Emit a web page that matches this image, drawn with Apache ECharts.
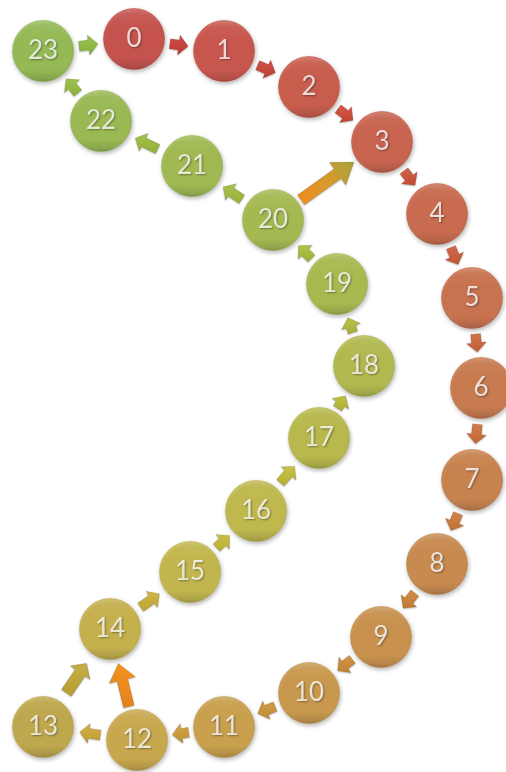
<!DOCTYPE html>
<html>
<head>
<meta charset="utf-8">
<script src="https://cdn.jsdelivr.net/npm/echarts@6/dist/echarts.min.js"></script>
<style>
html,body{margin:0;padding:0;background:#fff;}
#main{width:506px;height:772px;}
</style>
</head>
<body>
<div id="main"></div>
<script>
// Node labels and layout positions (diagram coordinates)
var labels = ['0','1','2','3','4','5','6','7','8','9','10','11','12','13','14','15','16','17','18','19','20','21','22','23'];
var xs = [134, 224, 309, 382, 437, 472, 481, 472, 437, 381, 309, 224, 137, 43, 110, 190, 256, 319, 364, 337, 273, 192, 101, 43];
var ys = [39, 51, 87, 142, 214, 298, 388, 480, 564, 637, 693, 727, 740, 727, 629, 572, 511, 438, 366, 284, 220, 166, 121, 51];
var colors = ['#c93a33','#cb3e33','#cc4633','#cc4f35','#cc5835','#cc6135','#cc6b35','#cc7535','#cc7f35','#cc8833','#cc9033','#cc9a33','#cca433','#c0a433','#c8ae33','#c4b633','#c0b833','#b8b833','#b0b935','#a6b935','#a0b938','#9ab938','#93b93a','#8cba3c'];
// Edges (from -> to)
var edgeFrom = [0,1,2,3,4,5,6,7,8,9,10,11,12,13,14,15,16,17,18,19,20,21,22,23,20,12];
var edgeTo   = [1,2,3,4,5,6,7,8,9,10,11,12,13,14,15,16,17,18,19,20,21,22,23,0,3,14];

function hexToRgb(h){h=h.replace('#','');return [parseInt(h.substr(0,2),16),parseInt(h.substr(2,2),16),parseInt(h.substr(4,2),16)];}
function mix(h, t, amt){var c=hexToRgb(h);var r=c.map(function(v,i){return Math.round(v+(t[i]-v)*amt);});return 'rgb('+r.join(',')+')';}
function lighten(h,a){return mix(h,[255,255,255],a);}
function darken(h,a){return mix(h,[0,0,0],a);}

var NODE = 61;

var nodeData = labels.map(function(l,i){
  var c = colors[i];
  return {
    value:[xs[i], ys[i]],
    name:l,
    itemStyle:{
      color:new echarts.graphic.LinearGradient(0,0,0,1,[
        {offset:0,color:lighten(c,0.2)},
        {offset:0.12,color:lighten(c,0.05)},
        {offset:0.3,color:c},
        {offset:0.8,color:c},
        {offset:0.93,color:darken(c,0.12)},
        {offset:1,color:darken(c,0.25)}
      ]),
      borderColor:darken(c,0.08),
      borderWidth:0.6,
      shadowBlur:4, shadowColor:'rgba(0,0,0,0.35)', shadowOffsetY:2, shadowOffsetX:1
    }
  };
});

var edgeData = edgeFrom.map(function(f,i){return [f, edgeTo[i]];});

function renderArrow(params, api){
  var idx = params.dataIndex;
  var a = edgeFrom[idx], b = edgeTo[idx];
  var p1 = api.coord([xs[a], ys[a]]);
  var p2 = api.coord([xs[b], ys[b]]);
  var dx = p2[0]-p1[0], dy = p2[1]-p1[1];
  var len = Math.sqrt(dx*dx+dy*dy);
  var ux = dx/len, uy = dy/len;
  var nx = -uy, ny = ux;
  var r = NODE/2;
  var gap = len - 2*r;
  var m1, m2, sw, hw, hl, fill;
  if (idx === 24) { // 20 -> 3
    m1 = 4; m2 = 4; sw = 12; hw = 28; hl = 20;
    fill = new echarts.graphic.LinearGradient(0,1,1,0,[
      {offset:0,color:'#f08a1e'},{offset:0.55,color:'#d79a2c'},{offset:1,color:'#a5a23a'}]);
  } else if (idx === 25) { // 12 -> 14
    m1 = 4; m2 = 5; sw = 11; hw = 27; hl = 17;
    fill = new echarts.graphic.LinearGradient(0,1,1,0,[
      {offset:0,color:'#e07e1c'},{offset:1,color:'#f7961f'}]);
  } else {
    var m = gap*0.19;
    m1 = m; m2 = m;
    var s = gap > 45 ? 1.2 : 1;
    sw = 10*s; hw = 20*s; hl = 9.5*s;
    var c = colors[a];
    fill = new echarts.graphic.LinearGradient(0,0,0,1,[
      {offset:0,color:lighten(c,0.12)},{offset:1,color:darken(c,0.05)}]);
  }
  var sx = p1[0]+ux*(r+m1), sy = p1[1]+uy*(r+m1);
  var ex = p2[0]-ux*(r+m2), ey = p2[1]-uy*(r+m2);
  var hx = ex-ux*hl, hy = ey-uy*hl;
  var pts = [
    [sx+nx*sw/2, sy+ny*sw/2],
    [hx+nx*sw/2, hy+ny*sw/2],
    [hx+nx*hw/2, hy+ny*hw/2],
    [ex, ey],
    [hx-nx*hw/2, hy-ny*hw/2],
    [hx-nx*sw/2, hy-ny*sw/2],
    [sx-nx*sw/2, sy-ny*sw/2]
  ];
  return {
    type:'polygon',
    shape:{points:pts},
    style:{fill:fill, stroke:'rgba(0,0,0,0.12)', lineWidth:0.8, shadowBlur:2, shadowColor:'rgba(0,0,0,0.25)', shadowOffsetY:1}
  };
}

var chart = echarts.init(document.getElementById('main'), null, {renderer:'canvas'});
chart.setOption({
  animation:false,
  backgroundColor:'#ffffff',
  grid:{left:0,right:0,top:0,bottom:0},
  xAxis:{type:'value',min:0,max:506,show:false},
  yAxis:{type:'value',min:0,max:772,inverse:true,show:false},
  series:[
    {
      type:'custom',
      coordinateSystem:'cartesian2d',
      data:edgeData,
      renderItem:renderArrow,
      z:1,
      silent:true
    },
    {
      type:'scatter',
      data:nodeData,
      symbol:'circle',
      symbolSize:NODE,
      z:2,
      label:{
        show:true,
        position:'inside',
        formatter:'{b}',
        color:'#ffffff',
        fontFamily:'Lato',
        fontSize:26,
        textShadowColor:'rgba(0,0,0,0.45)',
        textShadowBlur:2,
        textShadowOffsetX:1,
        textShadowOffsetY:1
      }
    }
  ]
});
</script>
</body>
</html>
